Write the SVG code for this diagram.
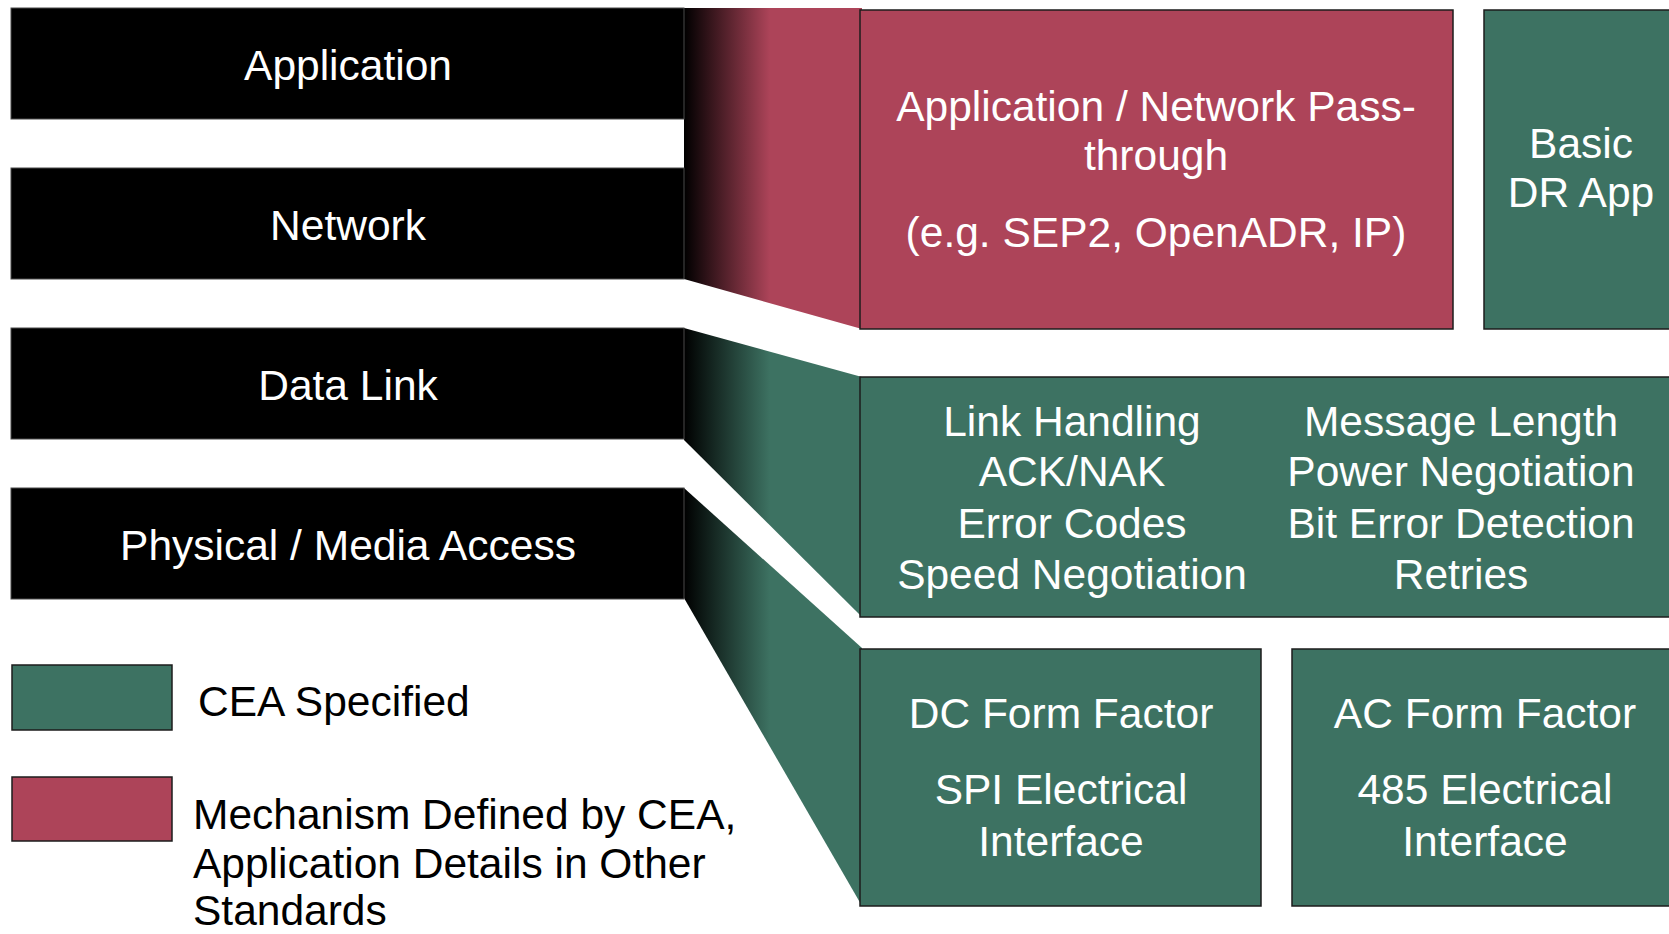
<svg xmlns="http://www.w3.org/2000/svg" width="1669" height="934" viewBox="0 0 1669 934">
  <defs>
    <linearGradient id="fadeRed" gradientUnits="userSpaceOnUse" x1="684" y1="0" x2="770" y2="0">
      <stop offset="0" stop-color="#000000"/>
      <stop offset="1" stop-color="#AD4459"/>
    </linearGradient>
    <linearGradient id="fadeGreen" gradientUnits="userSpaceOnUse" x1="684" y1="0" x2="770" y2="0">
      <stop offset="0" stop-color="#000000"/>
      <stop offset="1" stop-color="#3D7262"/>
    </linearGradient>
  </defs>
  <style>
    .layer { fill: #000000; stroke: #4a4a4a; stroke-width: 1; }
    .red { fill: #AD4459; stroke: #1c1c1c; stroke-width: 1.5; }
    .green { fill: #3D7262; stroke: #1c1c1c; stroke-width: 1.5; }
    text { font-family: "Liberation Sans", Arial, sans-serif; font-size: 42.5px; }
    .w { fill: #ffffff; text-anchor: middle; }
    .k { fill: #000000; }
  </style>
  <rect width="1669" height="934" fill="#ffffff"/>

  <!-- connectors: layer bars fanning out to their blocks -->
  <g id="connectors">
    <polygon points="684,8 862,8 862,329 684,279" fill="url(#fadeRed)"/>
    <polygon points="684,328 862,377 862,617 684,440" fill="url(#fadeGreen)"/>
    <polygon points="684,488 862,648 862,906 684,598" fill="url(#fadeGreen)"/>
  </g>

  <!-- protocol layers -->
  <g id="layer-application">
    <rect class="layer" x="11" y="8" width="673" height="111"/>
    <text class="w" x="348" y="80">Application</text>
  </g>
  <g id="layer-network">
    <rect class="layer" x="11" y="168" width="673" height="111"/>
    <text class="w" x="348" y="240">Network</text>
  </g>
  <g id="layer-datalink">
    <rect class="layer" x="11" y="328" width="673" height="111"/>
    <text class="w" x="348" y="400">Data Link</text>
  </g>
  <g id="layer-physical">
    <rect class="layer" x="11" y="488" width="673" height="111"/>
    <text class="w" x="348" y="560">Physical / Media Access</text>
  </g>

  <!-- blocks -->
  <g id="passthrough">
    <rect class="red" x="860" y="10" width="593" height="319"/>
    <text class="w" x="1156" y="121">Application / Network Pass-</text>
    <text class="w" x="1156" y="170">through</text>
    <text class="w" x="1156" y="247">(e.g. SEP2, OpenADR, IP)</text>
  </g>
  <g id="basic-dr-app">
    <rect class="green" x="1484" y="10" width="200" height="319"/>
    <text class="w" x="1581" y="158">Basic</text>
    <text class="w" x="1581" y="207">DR App</text>
  </g>
  <g id="datalink-block">
    <rect class="green" x="860" y="377" width="830" height="240"/>
    <text class="w" x="1072" y="436">Link Handling</text>
    <text class="w" x="1072" y="486">ACK/NAK</text>
    <text class="w" x="1072" y="538">Error Codes</text>
    <text class="w" x="1072" y="589">Speed Negotiation</text>
    <text class="w" x="1461" y="436">Message Length</text>
    <text class="w" x="1461" y="486">Power Negotiation</text>
    <text class="w" x="1461" y="538">Bit Error Detection</text>
    <text class="w" x="1461" y="589">Retries</text>
  </g>
  <g id="dc-form-factor">
    <rect class="green" x="860" y="649" width="401" height="257"/>
    <text class="w" x="1061" y="728">DC Form Factor</text>
    <text class="w" x="1061" y="804">SPI Electrical</text>
    <text class="w" x="1061" y="856">Interface</text>
  </g>
  <g id="ac-form-factor">
    <rect class="green" x="1292" y="649" width="400" height="257"/>
    <text class="w" x="1485" y="728">AC Form Factor</text>
    <text class="w" x="1485" y="804">485 Electrical</text>
    <text class="w" x="1485" y="856">Interface</text>
  </g>

  <!-- legend -->
  <g id="legend-cea">
    <rect class="green" x="12" y="665" width="160" height="65"/>
    <text class="k" x="198" y="716">CEA Specified</text>
  </g>
  <g id="legend-mechanism">
    <rect class="red" x="12" y="777" width="160" height="64"/>
    <text class="k" x="193" y="829">Mechanism Defined by CEA,</text>
    <text class="k" x="193" y="878">Application Details in Other</text>
    <text class="k" x="193" y="925">Standards</text>
  </g>
</svg>
